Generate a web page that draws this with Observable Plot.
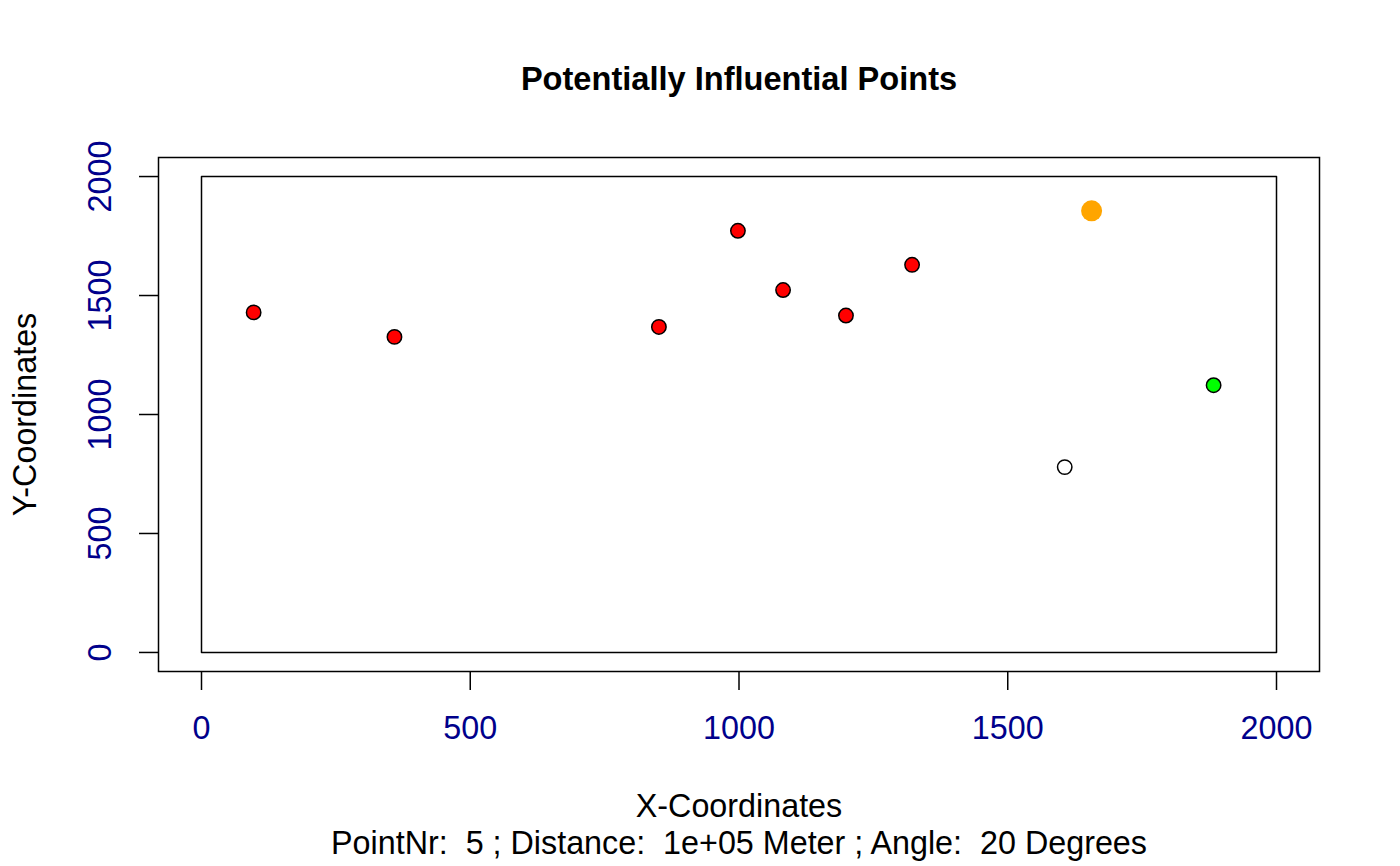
<!DOCTYPE html>
<html>
<head>
<meta charset="utf-8">
<script src="https://cdn.jsdelivr.net/npm/d3@7"></script>
<script src="https://cdn.jsdelivr.net/npm/@observablehq/plot@0.6"></script>
<style>
  html, body { margin: 0; padding: 0; background: #fff; }
  svg { display: block; }
</style>
</head>
<body>
<div id="chart"></div>
<script>
// ---- data ----
const pointX = [97, 359, 851, 998, 1082, 1199, 1322, 1656, 1606, 1883];
const pointY = [1429, 1326, 1368, 1772, 1523, 1416, 1629, 1856, 779, 1123];
const pointRole = ["influential", "influential", "influential", "influential", "influential",
                   "influential", "influential", "selected", "non-influential", "neighbour"];
const areaX = [0, 2000, 2000, 0, 0];
const areaY = [0, 0, 2000, 2000, 0];
const xTicks = [0, 500, 1000, 1500, 2000];
const yTicks = [0, 500, 1000, 1500, 2000];
const titleText = "Potentially Influential Points";
const xLabel = "X-Coordinates";
const yLabel = "Y-Coordinates";
const subText = "PointNr:  5 ; Distance:  1e+05 Meter ; Angle:  20 Degrees";

// ---- build ----
const points = pointX.map((x, i) => ({x, y: pointY[i], role: pointRole[i]}));
const area = areaX.map((x, i) => ({x, y: areaY[i]}));
const roleFill = {"influential": "#FF0000", "selected": "#FFA500", "non-influential": "#FFFFFF", "neighbour": "#00FF00"};

const font = "'Liberation Sans', Arial, Helvetica, sans-serif";
const FS = 32.3;
const txt = {fontSize: FS, lineAnchor: "middle", textAnchor: "middle"};

const chart = Plot.plot({
  width: 1400,
  height: 866,
  marginLeft: 158,
  marginRight: 81,
  marginTop: 157,
  marginBottom: 195,
  style: {fontFamily: font, fontSize: FS + "px", background: "#fff", color: "#000"},
  x: {domain: [-80, 2080], axis: null},
  y: {domain: [-80, 2080], axis: null},
  marks: [
    Plot.frame({stroke: "#000", strokeWidth: 1.5}),
    Plot.line(area, {x: "x", y: "y", stroke: "#000", strokeWidth: 1.5}),
    Plot.axisX({ticks: xTicks, tickSize: 19, tickFormat: () => "", label: null, stroke: "#000", strokeWidth: 1.5}),
    Plot.axisY({ticks: yTicks, tickSize: 19, tickFormat: () => "", label: null, stroke: "#000", strokeWidth: 1.5}),
    Plot.text(xTicks, {...txt, x: d => d, text: d => String(d), frameAnchor: "bottom", dy: 57, fill: "#00008B"}),
    Plot.text(yTicks, {...txt, y: d => d, text: d => String(d), frameAnchor: "left", dx: -58, rotate: -90, fill: "#00008B"}),
    Plot.dot(points.filter(d => d.role !== "selected"), {
      x: "x", y: "y", r: 7.2, fill: d => roleFill[d.role], stroke: "#000", strokeWidth: 1.5
    }),
    Plot.dot(points.filter(d => d.role === "selected"), {
      x: "x", y: "y", r: 10.5, fill: d => roleFill[d.role], stroke: null
    }),
    Plot.text([titleText], {...txt, text: d => d, frameAnchor: "top", dy: -78, fontWeight: "bold", fontSize: 32.6, fill: "#000"}),
    Plot.text([xLabel], {...txt, text: d => d, frameAnchor: "bottom", dy: 135, fill: "#000"}),
    Plot.text([subText], {...txt, text: d => d, frameAnchor: "bottom", dy: 172, fill: "#000"}),
    Plot.text([yLabel], {...txt, text: d => d, frameAnchor: "left", dx: -133, rotate: -90, fill: "#000"})
  ]
});
document.getElementById("chart").appendChild(chart);
</script>
</body>
</html>
